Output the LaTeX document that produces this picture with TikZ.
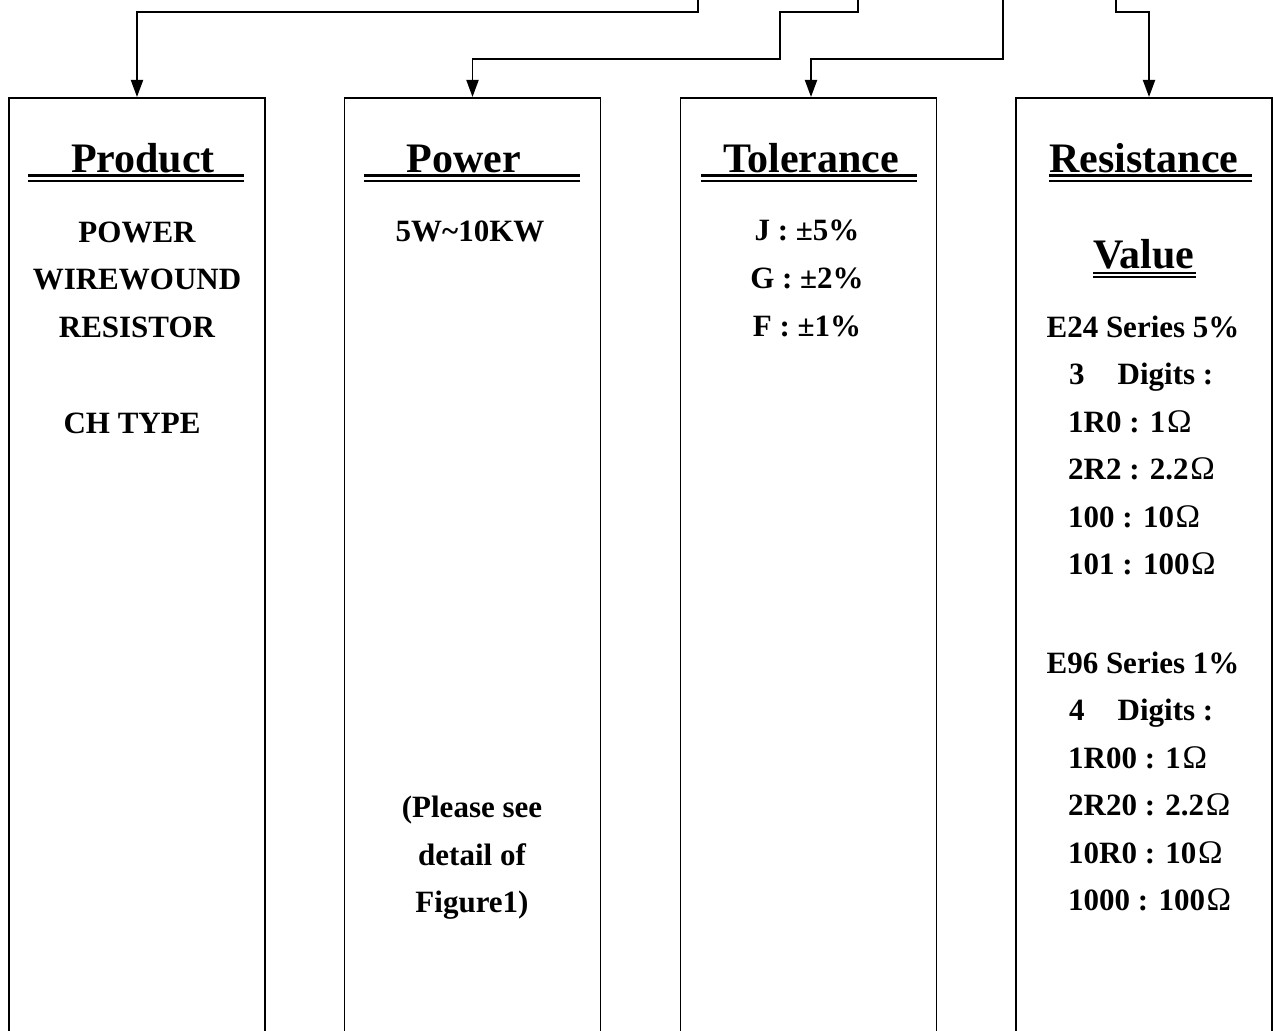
\documentclass[tikz,border=0pt]{standalone}
\usepackage{fontspec}
\setmainfont{Liberation Serif}
\usetikzlibrary{arrows.meta}
\newcommand{\ohmsym}{\hspace{1.5pt}{\mdseries\fontsize{33}{33}\selectfont Ω}}
\begin{document}
\begin{tikzpicture}[x=1pt,y=-1pt,
  colbox/.style={draw, line width=1.9pt, minimum width=256pt, minimum height=1000pt, anchor=north, inner sep=0pt},
  arr/.style={line width=1.9pt, -{Triangle[length=17pt,width=12pt]}},
  ttl/.style={font=\fontsize{42}{42}\selectfont\bfseries, anchor=base, inner sep=0pt},
  txt/.style={font=\fontsize{31}{31}\selectfont\bfseries, anchor=base, inner sep=0pt},
  txl/.style={txt, anchor=base west},
  dul/.style={line width=2.6pt},
  vul/.style={line width=1.8pt}]
\useasboundingbox (0,0) rectangle (1273,1030);

% column boxes
\node[colbox] (prod) at (137,97) {};
\node[colbox] (pow) at (472.5,97) {};
\node[colbox] (tol) at (808.5,97) {};
\node[colbox] (res) at (1144,97) {};

% free ends of the connectors at the top
\coordinate (s1) at (698,0);
\coordinate (s2) at (858,0);
\coordinate (s3) at (1003,0);
\coordinate (s4) at (1116,0);

\draw[arr] (s1) -- ++(0,12) -| (prod.north);
\draw[arr] (s2) -- ++(0,12) -- (780,12) -- (780,59) -| (pow.north);
\draw[arr] (s3) -- (1003,59) -| ([xshift=2.5pt]tol.north);
\draw[arr] (s4) -- ++(0,12) -| ([xshift=5pt]res.north);

% titles
\node[ttl] (tprod) at (143,172) {Product};
\draw[dul] (28,175.5) -- (244,175.5) (28,181) -- (244,181);
\node[ttl] (tpow) at (464,172) {Power};
\draw[dul] (364,175.5) -- (580,175.5) (364,181) -- (580,181);
\node[ttl] (ttol) at (811,172) {Tolerance};
\draw[dul] (701,175.5) -- (917,175.5) (701,181) -- (917,181);
\node[ttl] (tres) at (1144,172) {Resistance};
\draw[dul] (1049,175.5) -- (1252,175.5) (1049,181) -- (1252,181);
\node[ttl] (tval) at (1144,268) {Value};
\draw[vul] (1093,273.3) -- (1196,273.3) (1093,277.2) -- (1196,277.2);

% Product column
\node[txt] (p1) at (137,242) {POWER};
\node[txt] (p2) at (137,289.5) {WIREWOUND};
\node[txt] (p3) at (137,337) {RESISTOR};
\node[txt] (p4) at (132,433) {CH TYPE};

% Power column
\node[txt] (w1) at (470,241) {5W\textasciitilde10KW};
\node[txt] (w2) at (472,817) {(Please see};
\node[txt] (w3) at (472,865) {detail of};
\node[txt] (w4) at (472,912) {Figure1)};

% Tolerance column
\node[txt] (t1) at (807,240) {J : ±5\%};
\node[txt] (t2) at (807,288.5) {G : ±2\%};
\node[txt] (t3) at (807,336) {F : ±1\%};

% Resistance column
\node[txt] (r1) at (1143,337) {E24 Series 5\%};
\node[txl] (r2) at (1069,384.5) {3\hspace{33pt}Digits :};
\node[txl] (r3) at (1068,432) {1R0 : 1\ohmsym};
\node[txl] (r4) at (1068,479.5) {2R2 : 2.2\ohmsym};
\node[txl] (r5) at (1068,527) {100 : 10\ohmsym};
\node[txl] (r6) at (1068,574.5) {101 : 100\ohmsym};
\node[txt] (r7) at (1143,673) {E96 Series 1\%};
\node[txl] (r8) at (1069,720.5) {4\hspace{33pt}Digits :};
\node[txl] (r9) at (1068,768) {1R00 : 1\ohmsym};
\node[txl] (r10) at (1068,815.5) {2R20 : 2.2\ohmsym};
\node[txl] (r11) at (1068,863) {10R0 : 10\ohmsym};
\node[txl] (r12) at (1068,910.5) {1000 : 100\ohmsym};
\end{tikzpicture}
\end{document}
